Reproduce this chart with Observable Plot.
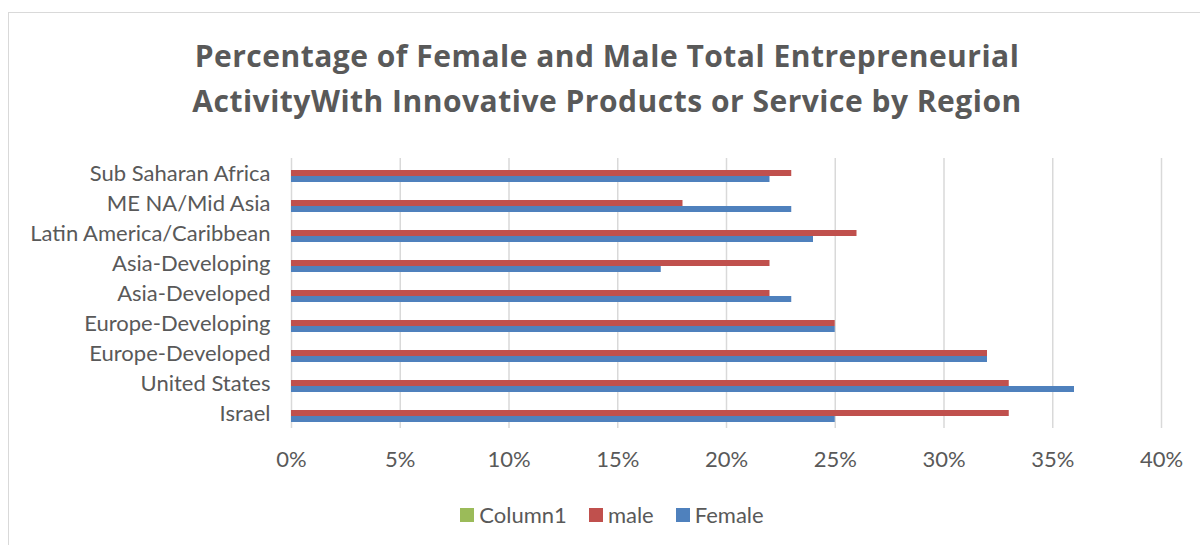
<!DOCTYPE html>
<html>
<head>
<meta charset="utf-8">
<script src="https://cdn.jsdelivr.net/npm/d3@7"></script>
<script src="https://cdn.jsdelivr.net/npm/@observablehq/plot@0.6"></script>
<style>
  html, body { margin: 0; padding: 0; background: #fff; }
  #wrap { position: relative; width: 1200px; height: 545px; overflow: hidden; font-family: Lato, "Open Sans", sans-serif; color: #595959; }
  #frame { position: absolute; left: 8px; top: 12px; width: 1300px; height: 600px; border: 1px solid #D9D9D9; box-sizing: border-box; }
  #title { position: absolute; left: 0; width: 1214px; top: 33px; text-align: center; font-family: "Open Sans", Lato, sans-serif; font-weight: bold; font-size: 30px; letter-spacing: 0.5px; line-height: 45px; }
  #chart { position: absolute; left: 0; top: 140px; }
  #legend { position: absolute; left: 0; width: 1224px; top: 502px; display: flex; justify-content: center; gap: 22px; font-size: 22px; line-height: 26px; }
  #legend span.item { display: flex; align-items: center; gap: 5px; }
  #legend span.sw { display: inline-block; width: 14px; height: 14px; }
</style>
</head>
<body>
<div id="wrap">
  <div id="frame"></div>
  <div id="title">Percentage of Female and Male Total Entrepreneurial<br>ActivityWith Innovative Products or Service by Region</div>
  <div id="chart"></div>
  <div id="legend"></div>
</div>
<script>
const regions = ["Sub Saharan Africa", "ME NA/Mid Asia", "Latin America/Caribbean", "Asia-Developing", "Asia-Developed", "Europe-Developing", "Europe-Developed", "United States", "Israel"];
const seriesNames = ["Column1", "male", "Female"];
const seriesColors = ["#9BBB59", "#C0504D", "#4F81BD"];
const column1 = [0, 0, 0, 0, 0, 0, 0, 0, 0];
const male = [0.23, 0.18, 0.26, 0.22, 0.22, 0.25, 0.32, 0.33, 0.33];
const female = [0.22, 0.23, 0.24, 0.17, 0.23, 0.25, 0.32, 0.36, 0.25];
const xTicks = [0, 0.05, 0.10, 0.15, 0.20, 0.25, 0.30, 0.35, 0.40];

const seriesValues = [column1, male, female];
const data = [];
regions.forEach((r, i) => {
  seriesNames.forEach((s, j) => data.push({region: r, series: s, value: seriesValues[j][i]}));
});

const chart = Plot.plot({
  width: 1200,
  height: 340,
  marginLeft: 291,
  marginRight: 39,
  marginTop: 17,
  marginBottom: 51,
  style: {fontFamily: "Lato, 'Open Sans', sans-serif", fontSize: "22px", color: "#595959", background: "transparent"},
  x: {domain: [0, 0.4], ticks: xTicks, tickFormat: d3.format(".0%"), label: null, tickSize: 0, tickPadding: 23},
  y: {domain: seriesNames, paddingInner: 0, paddingOuter: 1, axis: null},
  fy: {domain: regions, padding: 0, label: null, axis: "left", tickSize: 0, tickPadding: 21},
  color: {domain: seriesNames, range: seriesColors},
  marks: [
    Plot.ruleX(xTicks, {stroke: "#D9D9D9", strokeWidth: 1.5}),
    Plot.barX(data, {x: "value", y: "series", fy: "region", fill: "series"})
  ]
});
document.getElementById("chart").appendChild(chart);

const legend = document.getElementById("legend");
seriesNames.forEach((s, j) => {
  const item = document.createElement("span");
  item.className = "item";
  const sw = document.createElement("span");
  sw.className = "sw";
  sw.style.background = seriesColors[j];
  item.appendChild(sw);
  item.appendChild(document.createTextNode(s));
  legend.appendChild(item);
});
</script>
</body>
</html>
